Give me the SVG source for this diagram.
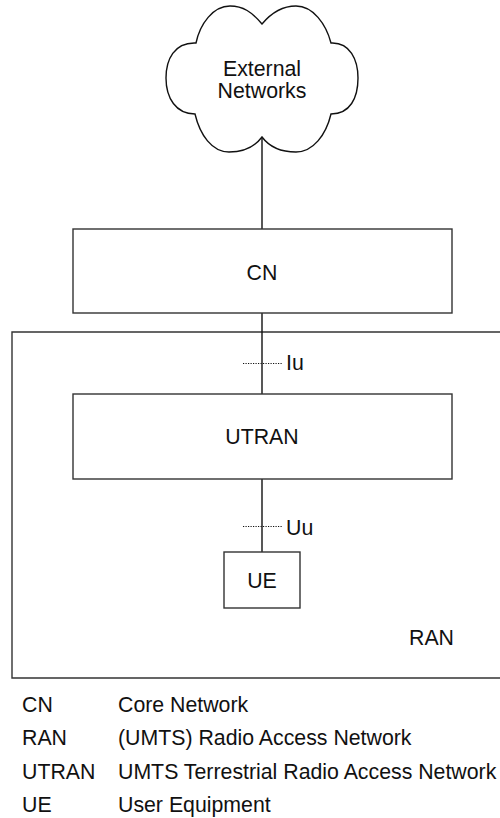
<svg xmlns="http://www.w3.org/2000/svg" width="500" height="818" viewBox="0 0 500 818">
<style>
text{font-family:"Liberation Sans",Arial,Helvetica,sans-serif;font-size:21.3px;fill:#111}
.box{fill:#fff;stroke:#333;stroke-width:1.4}
.ln{stroke:#111;stroke-width:1.4;fill:none}
.dot{stroke:#111;stroke-width:1;stroke-dasharray:1.2 1.3;fill:none}
.c{text-anchor:middle}
</style>
<rect width="500" height="818" fill="#fff"/>
<g id="RAN">
<path class="box" d="M510,332 H12 V678 H510" fill="none"/>
<text x="409" y="645">RAN</text>
</g>
<g id="connectors">
<line class="ln" x1="262" y1="137" x2="262" y2="229"/>
<line class="ln" x1="262" y1="313" x2="262" y2="394"/>
<line class="ln" x1="262" y1="479" x2="262" y2="552"/>
<line class="dot" x1="243" y1="363.5" x2="282" y2="363.5"/>
<line class="dot" x1="243" y1="526.5" x2="283" y2="526.5"/>
<text x="286" y="370">Iu</text>
<text x="286" y="535">Uu</text>
</g>
<g id="external">
<path class="ln" d="M262,24 C252,12 243,6 230,6 C213,6 200,24 196,43 C174,42 166,60 166,78 C166,98 176,114 195,114 C200,135 212,152 229,152 C246,152 256,145 262,137 C268,145 279,152 296,152 C313,152 326,135 331,114 C350,114 358,98 358,78 C358,60 350,42 331,43 C326,24 313,6 296,6 C282,6 272,12 262,24 Z"/>
<text class="c" x="262" y="76">External</text>
<text class="c" x="262" y="98">Networks</text>
</g>
<g id="CN">
<rect class="box" x="73" y="229" width="379" height="84"/>
<text class="c" x="262" y="280">CN</text>
</g>
<g id="UTRAN">
<rect class="box" x="73" y="394" width="379" height="85"/>
<text class="c" x="262" y="444">UTRAN</text>
</g>
<g id="UE">
<rect class="box" x="224" y="552" width="76" height="56"/>
<text class="c" x="262" y="588">UE</text>
</g>
<g id="legend">
<text x="22" y="712">CN</text><text x="118" y="712">Core Network</text>
<text x="22" y="745">RAN</text><text x="118" y="745">(UMTS) Radio Access Network</text>
<text x="22" y="779">UTRAN</text><text x="118" y="779">UMTS Terrestrial Radio Access Network</text>
<text x="22" y="812">UE</text><text x="118" y="812">User Equipment</text>
</g>
</svg>
